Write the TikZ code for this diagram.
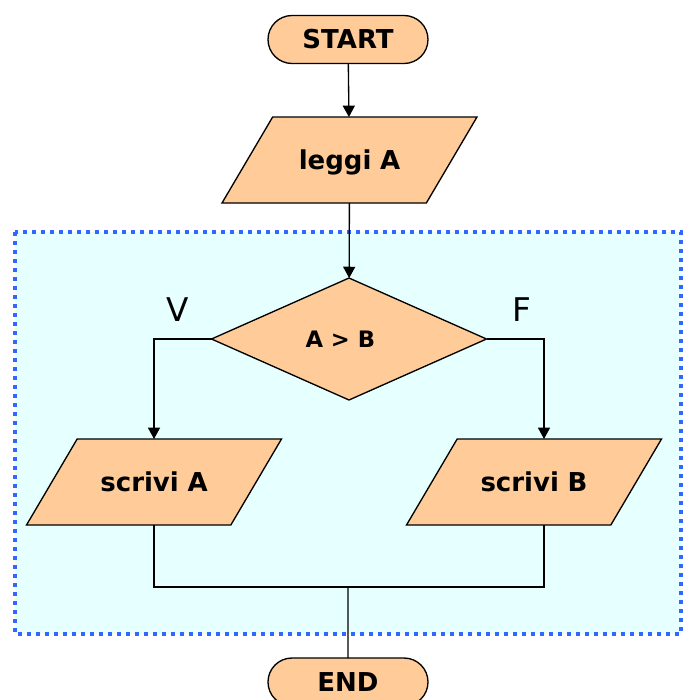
\documentclass[tikz,border=0pt]{standalone}
\usepackage{fontspec}
\setmainfont{DejaVu Sans}
\usetikzlibrary{shapes.geometric,shapes.misc,arrows.meta}

\definecolor{cffcc99}{RGB}{255,204,153}
\definecolor{c3366ff}{RGB}{51,102,255}
\definecolor{ce8ffff}{RGB}{230,255,255}

\tikzset{
  blk/.style={draw=black,fill=cffcc99,line width=1pt,inner sep=0pt,
    font=\fontsize{19.5}{23}\selectfont\bfseries},
  term/.style={blk,rounded rectangle,minimum width=120pt,minimum height=36pt},
  io/.style={blk,trapezium,trapezium left angle=59.5,trapezium right angle=120.5,
    text width=115.25pt,align=center,text height=14pt,text depth=0pt,
    inner xsep=0pt,inner ysep=25.25pt},
  test/.style={blk,diamond,minimum width=206.25pt,minimum height=91.5pt,
    font=\fontsize{17}{20}\selectfont\bfseries},
  lbl/.style={font=\fontsize{24.5}{28}\selectfont},
  lnk/.style={line width=1pt},
  arr/.style={lnk,-{Triangle[length=8.5pt,width=9pt]}}
}

\begin{document}
\begin{tikzpicture}[y=0.75pt, x=0.75pt,yscale=-1, inner sep=0pt, outer sep=0pt]
  \path[use as bounding box] (0,0) rectangle (683,700);
  \clip (0,0) rectangle (683,700);
  % zona tratteggiata
  \path[fill=ce8ffff,draw=c3366ff,line width=3pt,dash pattern=on 3pt off 3.75pt]
    (15,232) rectangle (681,634);

  \node[term] (start) at (348,39.5) {START};
  \node[io] (leggi) at (349.5,160) {leggi A};
  \node[test] (cond) at (349,339) {A > B\kern13pt};
  \node[io] (scrA) at (154,482) {scrivi A};
  \node[io] (scrB) at (534,482) {scrivi B};
  \node[term] (fine) at (348,682) {END};
  \node[lbl] (vero) at (178,310) {V};
  \node[lbl] (falso) at (522,310) {F};

  \coordinate (inB) at ([xshift=7.5pt]scrB.north);
  \coordinate (outB) at ([xshift=7.5pt]scrB.south);
  \coordinate (unione) at (348,587);

  \draw[arr] (start) -- (leggi);
  \draw[arr] (leggi) -- (cond);
  \draw[arr] (cond.west) -| (scrA.north);
  \draw[arr] (cond.east) -| (inB);
  \draw[lnk] (scrA.south) -- (scrA.south |- unione) -| (outB);
  \draw[lnk] (unione) -- (fine);
\end{tikzpicture}
\end{document}
